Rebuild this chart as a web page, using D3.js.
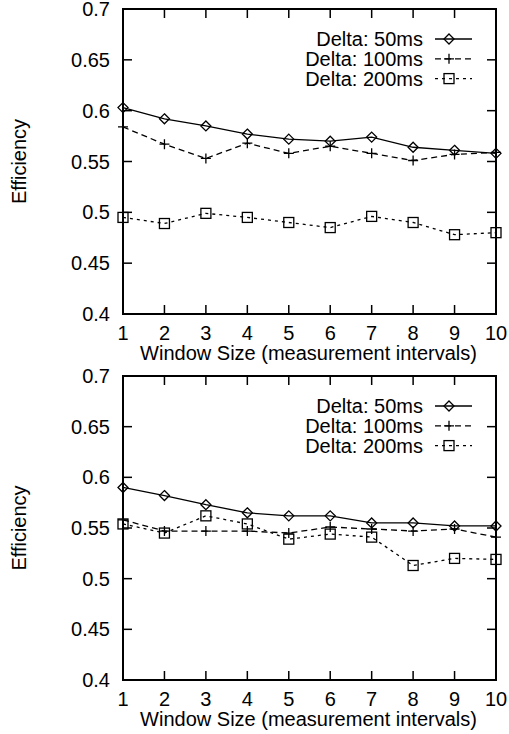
<!DOCTYPE html>
<html>
<head>
<meta charset="utf-8">
<script src="https://cdn.jsdelivr.net/npm/d3@7/dist/d3.min.js"></script>
<style>
  html, body { margin: 0; padding: 0; background: #fff; }
  svg { display: block; }
  text { font-family: "Liberation Sans", Arial, Helvetica, sans-serif; fill: #000; }
</style>
</head>
<body>
<svg id="chart" width="509" height="734"></svg>
<script>
// Window sizes on the x axis
const windowSizes = [1, 2, 3, 4, 5, 6, 7, 8, 9, 10];

// Efficiency axis ticks
const yTicks = [0.4, 0.45, 0.5, 0.55, 0.6, 0.65, 0.7];
const yTickLabels = ["0.4", "0.45", "0.5", "0.55", "0.6", "0.65", "0.7"];

const seriesLabels = ["Delta: 50ms", "Delta: 100ms", "Delta: 200ms"];
const xTitle = "Window Size (measurement intervals)";
const yTitle = "Efficiency";

// Upper plot
const upperDelta50  = [0.603, 0.592, 0.585, 0.577, 0.572, 0.570, 0.574, 0.564, 0.561, 0.558];
const upperDelta100 = [0.584, 0.567, 0.553, 0.568, 0.558, 0.565, 0.558, 0.551, 0.557, 0.559];
const upperDelta200 = [0.495, 0.489, 0.499, 0.495, 0.490, 0.485, 0.496, 0.490, 0.478, 0.480];

// Lower plot
const lowerDelta50  = [0.590, 0.582, 0.573, 0.565, 0.562, 0.562, 0.555, 0.555, 0.552, 0.552];
const lowerDelta100 = [0.558, 0.547, 0.547, 0.547, 0.545, 0.551, 0.549, 0.547, 0.549, 0.541];
const lowerDelta200 = [0.554, 0.545, 0.562, 0.554, 0.539, 0.544, 0.541, 0.513, 0.520, 0.519];

const svg = d3.select("#chart");
const FONT = 20;

const lineStyles = [
  { dash: null, marker: "diamond" },
  { dash: "6,4", marker: "plus" },
  { dash: "3,4", marker: "square" }
];

function drawMarker(g, type, x, y) {
  const s = 5;
  if (type === "diamond") {
    g.append("path")
      .attr("d", `M${x},${y - s}L${x + s},${y}L${x},${y + s}L${x - s},${y}Z`)
      .attr("fill", "none").attr("stroke", "#000").attr("stroke-width", 1.3);
  } else if (type === "plus") {
    g.append("path")
      .attr("d", `M${x - s},${y}H${x + s}M${x},${y - s}V${y + s}`)
      .attr("fill", "none").attr("stroke", "#000").attr("stroke-width", 1.3);
  } else {
    g.append("rect")
      .attr("x", x - s).attr("y", y - s).attr("width", 2 * s).attr("height", 2 * s)
      .attr("fill", "none").attr("stroke", "#000").attr("stroke-width", 1.3);
  }
}

function drawPanel(top, bottom, seriesValues) {
  const left = 123, right = 496;
  const g = svg.append("g");

  const x = d3.scaleLinear().domain([1, 10]).range([left, right]);
  const y = d3.scaleLinear().domain([0.4, 0.7]).range([bottom, top]);
  const tickLen = 9;

  // inward ticks on all four sides
  const ticks = g.append("g").attr("stroke", "#000").attr("stroke-width", 1.5);
  windowSizes.forEach(w => {
    ticks.append("line").attr("x1", x(w)).attr("x2", x(w)).attr("y1", bottom).attr("y2", bottom - tickLen);
    ticks.append("line").attr("x1", x(w)).attr("x2", x(w)).attr("y1", top).attr("y2", top + tickLen);
  });
  yTicks.forEach(t => {
    ticks.append("line").attr("x1", left).attr("x2", left + tickLen).attr("y1", y(t)).attr("y2", y(t));
    ticks.append("line").attr("x1", right).attr("x2", right - tickLen).attr("y1", y(t)).attr("y2", y(t));
  });

  // tick labels
  windowSizes.forEach(w => {
    g.append("text").attr("x", x(w)).attr("y", bottom + 26)
      .attr("text-anchor", "middle").attr("font-size", FONT).text(w);
  });
  yTicks.forEach((t, i) => {
    g.append("text").attr("x", 110).attr("y", y(t)).attr("dy", "0.35em")
      .attr("text-anchor", "end").attr("font-size", FONT).text(yTickLabels[i]);
  });

  // axis titles
  g.append("text").attr("x", (left + right) / 2 - 1).attr("y", bottom + 46)
    .attr("text-anchor", "middle").attr("font-size", FONT).text(xTitle);
  g.append("text")
    .attr("transform", `translate(26,${(top + bottom) / 2}) rotate(-90)`)
    .attr("text-anchor", "middle").attr("font-size", FONT).text(yTitle);

  // series
  const line = d3.line().x((d, i) => x(windowSizes[i])).y(d => y(d));
  seriesValues.forEach((vals, si) => {
    const st = lineStyles[si];
    g.append("path").datum(vals).attr("d", line)
      .attr("fill", "none").attr("stroke", "#000").attr("stroke-width", 1.3)
      .attr("stroke-dasharray", st.dash);
    vals.forEach((v, i) => drawMarker(g, st.marker, x(windowSizes[i]), y(v)));
  });

  // key
  seriesLabels.forEach((lab, si) => {
    const ly = top + 30 + si * 19.8;
    const st = lineStyles[si];
    g.append("text").attr("x", 423).attr("y", ly).attr("dy", "0.35em")
      .attr("text-anchor", "end").attr("font-size", FONT).text(lab);
    g.append("line").attr("x1", 435).attr("x2", 472).attr("y1", ly).attr("y2", ly)
      .attr("stroke", "#000").attr("stroke-width", 1.3).attr("stroke-dasharray", st.dash);
    drawMarker(g, st.marker, 449, ly);
  });

  // frame
  g.append("rect").attr("x", left).attr("y", top)
    .attr("width", right - left).attr("height", bottom - top)
    .attr("fill", "none").attr("stroke", "#000").attr("stroke-width", 2);
}

drawPanel(9, 314, [upperDelta50, upperDelta100, upperDelta200]);
drawPanel(376, 680, [lowerDelta50, lowerDelta100, lowerDelta200]);
</script>
</body>
</html>
